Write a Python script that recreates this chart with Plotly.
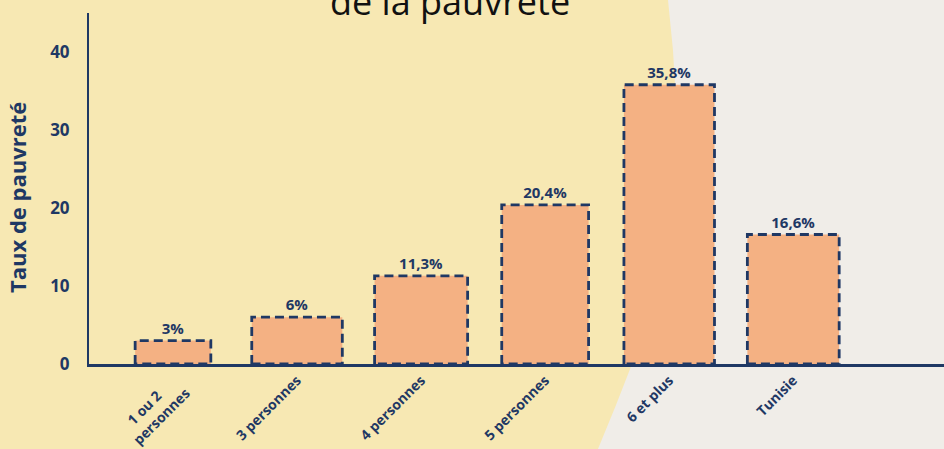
import plotly.graph_objects as go

NB = "\u00a0"
categories = ["1 ou 2" + NB * 6 + "<br>personnes", "3 personnes", "4 personnes", "5 personnes", "6 et plus", "Tunisie"]
values = [3, 6, 11.3, 20.4, 35.8, 16.6]
value_labels = ["3%", "6%", "11,3%", "20,4%", "35,8%", "16,6%"]
y_ticks = [0, 10, 20, 30, 40]
title_text = "de la pauvreté"
y_title = "Taux de pauvreté"

NAVY = "#1F3864"
BAR = "#F4B183"
CREAM = "#F7E8B3"
PAPER = "#F0EDE8"
FONT = "Open Sans"

W, H = 944, 449
L, R, T, B = 89, 0, 13, 85
PW, PH = W - L - R, H - T - B


def to_paper(px, py):
    return (px - L) / PW, (H - B - py) / PH


x_pos = list(range(len(categories)))
widths = [0.61, 0.73, 0.75, 0.70, 0.73, 0.74]

fig = go.Figure()
fig.add_trace(go.Bar(
    x=x_pos, y=values, width=widths,
    marker=dict(color=BAR, line=dict(width=0)),
    text=value_labels, textposition="outside",
    textfont=dict(family=FONT, size=15, color=NAVY, weight="bold"),
    cliponaxis=False, showlegend=False, hoverinfo="skip",
))

ox, oy = [], []
for i, (v, w) in enumerate(zip(values, widths)):
    ox += [i - w / 2, i - w / 2, i + w / 2, i + w / 2, i - w / 2, None]
    oy += [0, v, v, 0, 0, None]
fig.add_trace(go.Scatter(
    x=ox, y=oy, mode="lines",
    line=dict(color=NAVY, width=2.8, dash="9px,5px"),
    cliponaxis=False, showlegend=False, hoverinfo="skip",
))

# background blob (decorative)
pts = [(-5, -5), (668, -5), (668, 0), (673, 50), (676, 100), (674, 150), (669, 200),
       (660, 260), (648, 310), (632, 364), (616, 405), (598, 449), (598, 455), (-5, 455)]
path = ""
for k, (px, py) in enumerate(pts):
    xp, yp = to_paper(px, py)
    path += ("M" if k == 0 else "L") + f"{xp:.4f},{yp:.4f} "
path += "Z"

fig.update_layout(
    width=W, height=H,
    margin=dict(l=L, r=R, t=T, b=B, autoexpand=False),
    paper_bgcolor=PAPER, plot_bgcolor="rgba(0,0,0,0)",
    font=dict(family=FONT, color=NAVY),
    shapes=[dict(type="path", xref="paper", yref="paper", path=path,
                 fillcolor=CREAM, line=dict(width=0), layer="below")],
    xaxis=dict(range=[-0.677, 6.215], tickvals=x_pos, ticktext=categories,
               tickangle=-45, showline=True, linecolor=NAVY, linewidth=2.5,
               showgrid=False, zeroline=False, ticks="", automargin=False,
               tickfont=dict(family=FONT, size=14, color=NAVY, weight="bold")),
    yaxis=dict(range=[0, 45], tickvals=y_ticks, showline=True, linecolor=NAVY,
               linewidth=2, showgrid=False, zeroline=False, ticks="", automargin=False,
               ticklabelstandoff=14,
               tickfont=dict(family=FONT, size=17, color=NAVY, weight="bold")),
    annotations=[
        dict(text=y_title, xref="paper", yref="paper", x=to_paper(17, 0)[0],
             y=to_paper(0, 198)[1], textangle=-90, showarrow=False,
             xanchor="center", yanchor="middle",
             font=dict(family=FONT, size=22, color=NAVY, weight="bold")),
        dict(text=title_text, xref="paper", yref="paper", x=to_paper(450, 0)[0],
             y=to_paper(0, 28)[1], showarrow=False, xanchor="center", yanchor="bottom",
             font=dict(family=FONT, size=36, color="#111111")),
    ],
)

fig.write_html("out.html", config={"displayModeBar": False})

with open("out.html", "r", encoding="utf-8") as f:
    html = f.read()
html = html.replace("<head>", "<head><style>html,body{margin:0;padding:0;overflow:hidden;}</style>", 1)
with open("out.html", "w", encoding="utf-8") as f:
    f.write(html)
